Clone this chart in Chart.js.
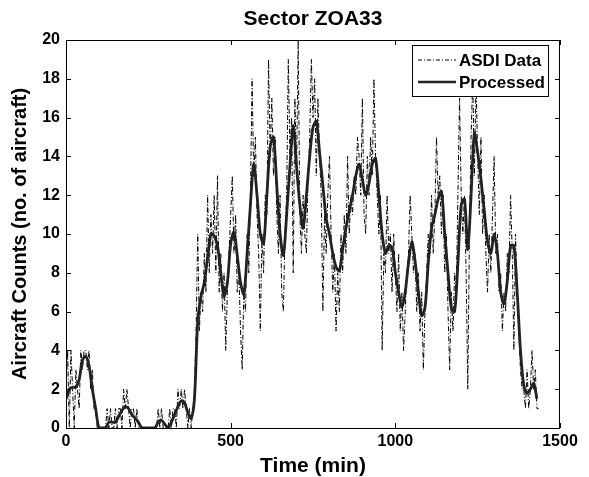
<!DOCTYPE html>
<html>
<head>
<meta charset="utf-8">
<script src="https://cdn.jsdelivr.net/npm/chart.js@4/dist/chart.umd.min.js"></script>
<style>
  body { margin: 0; background: #fff; }
  canvas { display: block; }
</style>
</head>
<body>
<canvas id="chart" width="589" height="477"></canvas>
<script>
// Dados (contagem de aeronaves por minuto)
const chartTitle = 'Sector ZOA33';
const seriesNames = ['ASDI Data', 'Processed'];
const xTicks = [0, 500, 1000, 1500];
const yTicks = [0, 2, 4, 6, 8, 10, 12, 14, 16, 18, 20];

// ASDI: uma amostra a cada 5 min, começando em 0
const asdiStep = 5;
const asdiCounts = [
  2, 4, 0, 4, 2, 0, 3, 2, 1, 4,
  3, 4, 4, 3, 4, 2, 3, 1, 1, 0,
  0, 0, 0, 0, 0, 1, 0, 1, 0, 0,
  1, 0, 1, 1, 0, 2, 1, 2, 1, 0,
  1, 1, 0, 1, 0, 0, 0, 0, 0, 0,
  0, 0, 0, 0, 0, 0, 1, 0, 1, 0,
  0, 0, 0, 1, 0, 1, 1, 0, 2, 1,
  2, 1, 2, 1, 0, 1, 0, 1, 2, 5,
  10, 5, 7, 6, 9, 7, 12, 8, 11, 9,
  12, 8, 13, 7, 9, 6, 8, 4, 7, 9,
  11, 13, 9, 11, 7, 8, 5, 3, 7, 6,
  10, 8, 12, 18, 13, 15, 11, 9, 5, 10,
  8, 12, 11, 19, 14, 17, 13, 15, 11, 9,
  12, 7, 6, 10, 12, 19, 14, 16, 8, 17,
  13, 20, 11, 9, 12, 10, 9, 13, 15, 19,
  16, 18, 13, 17, 14, 12, 6, 11, 9, 12,
  14, 10, 7, 9, 5, 8, 6, 10, 8, 11,
  9, 14, 10, 12, 11, 13, 12, 15, 14, 12,
  17, 11, 10, 14, 12, 15, 13, 18, 14, 12,
  10, 12, 4, 9, 8, 12, 9, 10, 7, 10,
  8, 6, 9, 5, 7, 4, 6, 8, 9, 12,
  10, 8, 9, 6, 8, 5, 7, 3, 6, 8,
  10, 9, 12, 9, 11, 15, 12, 13, 10, 12,
  8, 10, 6, 3, 7, 5, 8, 7, 12, 17,
  12, 10, 12, 8, 2, 10, 15, 18, 13, 18,
  14, 11, 15, 10, 12, 9, 7, 10, 8, 11,
  14, 9, 10, 7, 8, 5, 7, 6, 9, 8,
  12, 9, 4, 10, 7, 5, 3, 2, 2, 1,
  3, 1, 2, 4, 2, 3, 1, 1
];

// Processado: uma amostra a cada 10 min, começando em 0
const processedStep = 10;
const processedCounts = [
  1.5, 2.0, 2.1, 2.1, 2.5, 3.5, 3.7, 3.2, 2.0, 1.0,
  0, 0, 0, 0.3, 0.3, 0.3, 0.6, 0.9, 1.1, 1.0,
  0.7, 0.5, 0.3, 0, 0, 0, 0, 0, 0.3, 0.4,
  0.2, 0, 0.3, 0.7, 1.1, 1.4, 1.3, 0.8, 0.5, 1.5,
  5.5, 6.8, 7.5, 8.8, 10.0, 9.9, 9.4, 8.0, 6.8, 7.5,
  9.5, 10.1, 8.9, 7.5, 6.9, 9.0, 11.5, 13.6, 12.0, 10.0,
  9.5, 12.0, 14.5, 15.0, 12.5, 10.0, 8.9, 11.0, 13.5, 15.6,
  13.5, 11.5, 10.3, 12.0, 14.0, 15.5, 15.8, 14.2, 12.5, 10.8,
  10.0, 9.0, 8.3, 8.1, 9.2, 10.3, 11.2, 12.0, 13.0, 13.6,
  12.8, 12.0, 12.6, 13.6, 13.9, 12.0, 10.0, 9.0, 9.4, 9.3,
  8.0, 7.0, 6.2, 7.0, 8.5, 9.6, 8.6, 7.0, 5.8, 6.2,
  8.5, 10.3, 11.0, 11.8, 12.2, 10.0, 8.0, 6.2, 6.0, 8.5,
  11.5, 11.8, 9.2, 12.0, 15.2, 14.2, 12.8, 11.2, 9.6, 9.0,
  10.0, 9.0, 7.0, 6.4, 7.6, 9.4, 9.4, 7.0, 4.0, 2.2,
  1.8, 2.0, 2.3, 1.5
];

const FONT = "'Liberation Sans', Arial, Helvetica, sans-serif";

// Título centrado sobre a área do gráfico (e não sobre o canvas)
const titlePlugin = {
  id: 'plotTitle',
  afterDraw(chart) {
    const { ctx, chartArea: a } = chart;
    ctx.save();
    ctx.fillStyle = '#000';
    ctx.font = 'bold 21px ' + FONT;
    ctx.textAlign = 'center';
    ctx.textBaseline = 'middle';
    ctx.fillText(chartTitle, (a.left + a.right) / 2, 19);
    ctx.restore();
  }
};

// Moldura com marcas para dentro (estilo MATLAB)
const framePlugin = {
  id: 'frame',
  afterDatasetsDraw(chart) {
    const { ctx, chartArea: a, scales } = chart;
    ctx.save();
    ctx.strokeStyle = '#000';
    ctx.lineWidth = 1;
    ctx.strokeRect(a.left + 0.5, a.top + 0.5, a.right - a.left - 1, a.bottom - a.top);
    ctx.beginPath();
    xTicks.forEach(v => {
      const x = Math.round(scales.x.getPixelForValue(v)) + 0.5;
      ctx.moveTo(x, a.bottom); ctx.lineTo(x, a.bottom - 5);
      ctx.moveTo(x, a.top); ctx.lineTo(x, a.top + 5);
    });
    yTicks.forEach(v => {
      const y = Math.round(scales.y.getPixelForValue(v)) + 0.5;
      ctx.moveTo(a.left, y); ctx.lineTo(a.left + 5, y);
      ctx.moveTo(a.right, y); ctx.lineTo(a.right - 5, y);
    });
    ctx.stroke();
    ctx.restore();
  }
};

// Legenda dentro da área do gráfico, canto superior direito
const legendPlugin = {
  id: 'boxLegend',
  afterDraw(chart) {
    const { ctx } = chart;
    const x0 = 412, y0 = 45, w = 136, h = 51;
    ctx.save();
    ctx.fillStyle = '#fff';
    ctx.fillRect(x0, y0, w, h);
    ctx.strokeStyle = '#000';
    ctx.lineWidth = 1;
    ctx.strokeRect(x0 + 0.5, y0 + 0.5, w, h);

    ctx.beginPath();
    ctx.setLineDash([4, 2, 1, 2]);
    ctx.moveTo(418, 60); ctx.lineTo(456, 60);
    ctx.stroke();

    ctx.setLineDash([]);
    ctx.lineWidth = 2.5;
    ctx.strokeStyle = '#222';
    ctx.beginPath();
    ctx.moveTo(418, 82); ctx.lineTo(456, 82);
    ctx.stroke();

    ctx.fillStyle = '#000';
    ctx.font = 'bold 17px ' + FONT;
    ctx.textBaseline = 'middle';
    ctx.textAlign = 'left';
    ctx.fillText(seriesNames[0], 459, 61);
    ctx.fillText(seriesNames[1], 459, 83);
    ctx.restore();
  }
};

new Chart(document.getElementById('chart'), {
  type: 'line',
  data: {
    datasets: [{
      label: seriesNames[0],
      data: asdiCounts.map((v, i) => ({ x: i * asdiStep, y: v })),
      borderColor: '#000',
      borderWidth: 1,
      borderDash: [5, 2, 1, 2],
      pointRadius: 0,
      tension: 0,
      order: 1
    }, {
      label: seriesNames[1],
      data: processedCounts.map((v, i) => ({ x: i * processedStep, y: v })),
      borderColor: '#222',
      borderWidth: 2.8,
      pointRadius: 0,
      tension: 0.3,
      order: 0
    }]
  },
  options: {
    responsive: false,
    animation: false,
    layout: { padding: { left: 0, right: 29, top: 40, bottom: 0 } },
    plugins: {
      legend: { display: false },
      tooltip: { enabled: false },
      title: { display: false }
    },
    scales: {
      x: {
        type: 'linear',
        min: 0,
        max: 1500,
        afterFit: s => { s.height = 49; },
        afterBuildTicks: s => { s.ticks = xTicks.map(v => ({ value: v })); },
        grid: { display: false, drawTicks: false },
        border: { display: false },
        ticks: {
          color: '#000',
          padding: 4,
          maxRotation: 0,
          callback: v => String(v),
          font: { family: FONT, size: 16, weight: 'bold' }
        },
        title: {
          display: true,
          text: 'Time (min)',
          color: '#000',
          font: { family: FONT, size: 21, weight: 'bold', lineHeight: 1 },
          padding: 0
        }
      },
      y: {
        min: 0,
        max: 20,
        afterFit: s => { s.width = 66; },
        afterBuildTicks: s => { s.ticks = yTicks.map(v => ({ value: v })); },
        grid: { display: false, drawTicks: false },
        border: { display: false },
        ticks: {
          color: '#000',
          padding: 6,
          callback: v => String(v),
          font: { family: FONT, size: 16, weight: 'bold' }
        },
        title: {
          display: true,
          text: 'Aircraft Counts (no. of aircraft)',
          color: '#000',
          font: { family: FONT, size: 20, weight: 'bold', lineHeight: 1 },
          padding: { top: 10, bottom: 0 }
        }
      }
    }
  },
  plugins: [framePlugin, legendPlugin, titlePlugin]
});
</script>
</body>
</html>
